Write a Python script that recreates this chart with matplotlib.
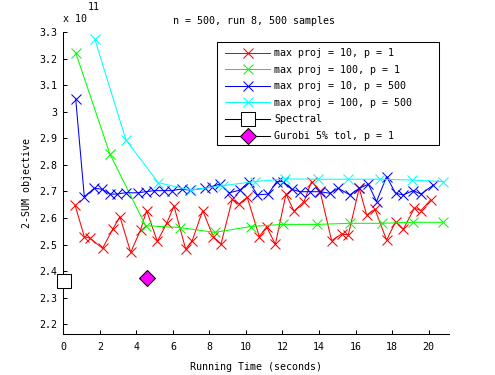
import matplotlib
matplotlib.use("Agg")
import matplotlib.pyplot as plt
from matplotlib.ticker import FuncFormatter
from matplotlib.patches import Rectangle

# ---- data (objective values in units of 1e11) ----
red_x = [0.64, 1.15, 1.46, 2.15, 2.70, 3.10, 3.69, 4.23, 4.56, 5.15, 5.66, 6.06, 6.70, 7.06,
         7.63, 8.21, 8.63, 9.25, 9.62, 10.07, 10.73, 11.13, 11.61, 12.19, 12.63, 13.18, 13.59,
         14.05, 14.69, 15.24, 15.60, 16.20, 16.61, 17.06, 17.70, 18.19, 18.61, 19.22, 19.58, 20.11]
red_y = [2.649, 2.530, 2.524, 2.486, 2.557, 2.605, 2.471, 2.555, 2.628, 2.512, 2.580, 2.645,
         2.483, 2.515, 2.628, 2.530, 2.501, 2.670, 2.653, 2.678, 2.530, 2.567, 2.501, 2.690,
         2.626, 2.662, 2.737, 2.703, 2.515, 2.540, 2.536, 2.712, 2.611, 2.633, 2.517, 2.586,
         2.557, 2.637, 2.628, 2.668]

green_x = [0.68, 2.55, 4.51, 6.39, 8.30, 10.26, 12.01, 13.87, 15.69, 17.43, 19.16, 20.80]
green_y = [3.222, 2.841, 2.571, 2.564, 2.546, 2.568, 2.576, 2.576, 2.580, 2.580, 2.584, 2.584]

blue_x = [0.68, 1.15, 1.70, 2.14, 2.55, 2.92, 3.41, 4.11, 4.51, 4.98, 5.51, 5.93, 6.48, 6.93,
          7.76, 8.12, 8.58, 9.09, 9.67, 10.18, 10.62, 11.22, 11.68, 12.04, 12.50, 12.96, 13.50,
          14.05, 14.60, 15.05, 15.69, 16.20, 16.70, 17.15, 17.70, 18.19, 18.61, 19.16, 19.58, 20.26]
blue_y = [3.047, 2.680, 2.712, 2.708, 2.690, 2.690, 2.695, 2.695, 2.699, 2.703, 2.703, 2.703,
          2.709, 2.705, 2.712, 2.718, 2.728, 2.695, 2.705, 2.737, 2.687, 2.690, 2.737, 2.737,
          2.708, 2.699, 2.699, 2.699, 2.693, 2.712, 2.687, 2.712, 2.727, 2.662, 2.756, 2.693,
          2.687, 2.703, 2.690, 2.724]

cyan_x = [1.73, 3.43, 5.20, 6.97, 8.76, 10.49, 12.14, 13.96, 15.60, 17.34, 19.07, 20.80]
cyan_y = [3.272, 2.894, 2.733, 2.705, 2.722, 2.737, 2.747, 2.746, 2.746, 2.746, 2.743, 2.737]

spectral_x = [0.05]
spectral_y = [2.363]
gurobi_x = [4.56]
gurobi_y = [2.376]

labels = ["max proj = 10, p = 1", "max proj = 100, p = 1", "max proj = 10, p = 500",
          "max proj = 100, p = 500", "Spectral", "Gurobi 5% tol, p = 1"]
x_ticks = [0, 2, 4, 6, 8, 10, 12, 14, 16, 18, 20]
y_ticks = [2.2, 2.3, 2.4, 2.5, 2.6, 2.7, 2.8, 2.9, 3.0, 3.1, 3.2, 3.3]

plt.rcParams['font.family'] = ['DejaVu Sans Mono']
plt.rcParams['font.size'] = 7.2

W, H = 495, 375
fig = plt.figure(figsize=(W / 100, H / 100), dpi=100)
ax = fig.add_axes([63.3 / W, 1 - 334 / H, (448.7 - 63.3) / W, (334 - 32) / H])

lw = 0.75
common = dict(linewidth=lw, marker='x', markersize=6.5, markeredgewidth=0.75)
ax.plot(red_x, red_y, color=(1, 0, 0), label=labels[0], **common)
ax.plot(green_x, green_y, color=(0, 1, 0), label=labels[1], **common)
ax.plot(blue_x, blue_y, color=(0, 0, 1), label=labels[2], **common)
ax.plot(cyan_x, cyan_y, color=(0, 1, 1), label=labels[3], **common)
ax.plot(spectral_x, spectral_y, color='k', linewidth=lw, marker='s', markersize=10,
        markerfacecolor='white', markeredgecolor='k', markeredgewidth=0.75,
        label=labels[4], clip_on=False, zorder=5)
ax.plot(gurobi_x, gurobi_y, color='k', linewidth=lw, marker='D', markersize=8.5,
        markerfacecolor=(1, 0, 1), markeredgecolor='k', markeredgewidth=0.75,
        label=labels[5], zorder=5)

ax.set_xlim(0, 21.1)
ax.set_ylim(2.1635, 3.3)
ax.set_xticks(x_ticks)
ax.set_yticks(y_ticks)
ax.yaxis.set_major_formatter(FuncFormatter(lambda v, p: '%g' % round(v, 2)))
ax.xaxis.set_major_formatter(FuncFormatter(lambda v, p: '%g' % v))
ax.tick_params(direction='in', length=3, width=0.75, labelsize=7.2)
ax.tick_params(axis='y', pad=4.5)
ax.tick_params(axis='x', pad=6)
for s in ['top', 'right']:
    ax.spines[s].set_visible(False)
for s in ['left', 'bottom']:
    ax.spines[s].set_linewidth(0.75)

ax.set_xlabel("Running Time (seconds)", fontsize=7.2, labelpad=7)
ax.set_ylabel("2-SUM objective", fontsize=7.2, labelpad=5)

fig.text(254 / W, 1 - 21 / H, "n = 500, run 8, 500 samples", ha='center', va='center', fontsize=7.2)
fig.text(63 / W, 1 - 19 / H, "x 10", ha='left', va='center', fontsize=7.2)
fig.text(87.5 / W, 1 - 7.5 / H, "11", ha='left', va='center', fontsize=7.2)

# legend (frameless) + Matlab-style box drawn separately
ax_w, ax_h = 448.7 - 63.3, 334 - 32
leg = ax.legend(loc='upper left',
                bbox_to_anchor=((220.3 - 63.3) / ax_w, 1 - (43.0 - 32) / ax_h),
                fontsize=7.2, frameon=False,
                handlelength=4.5, handletextpad=0.4, labelspacing=0.66, borderpad=0.5,
                borderaxespad=0, numpoints=1)
box = Rectangle((217.3 / W, 1 - 145.3 / H), (439.3 - 217.3) / W, (145.3 - 42.3) / H,
                transform=fig.transFigure, facecolor='white', edgecolor='k',
                linewidth=0.75, zorder=4.9)
ax.add_artist(box)
leg.set_zorder(10)

fig.savefig("out.png", dpi=100)
